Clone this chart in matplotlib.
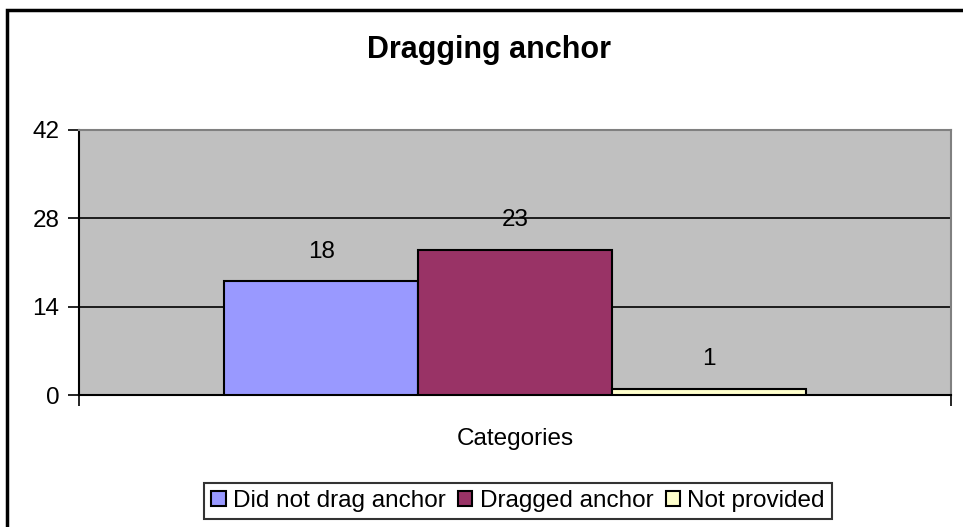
import matplotlib
matplotlib.use("Agg")
import matplotlib.pyplot as plt
from matplotlib.patches import Rectangle

# data
series = ["Did not drag anchor", "Dragged anchor", "Not provided"]
values = [18, 23, 1]
colors = ["#9999FF", "#993366", "#FFFFCC"]
yticks = [0, 14, 28, 42]
category = "Categories"

plt.rcParams['font.family'] = ['Liberation Sans', 'DejaVu Sans']

fig = plt.figure(figsize=(9.63, 5.27), dpi=100)
ax = fig.add_axes([79/963, 1-395/527, 872/963, 265/527])
ax.set_facecolor("#C0C0C0")

# bars side by side in one category
for i, (name, v, c) in enumerate(zip(series, values, colors)):
    ax.bar(i, v, width=1.0, color=c, edgecolor="black", linewidth=1.5, label=name, zorder=3)
    ax.text(i, v + 3.0, str(v), ha="center", va="bottom", fontsize=17.5, zorder=4)

ax.set_xlim(-1.25, 3.25)
ax.set_ylim(0, 42)
ax.set_yticks(yticks)
ax.set_yticklabels([str(t) for t in yticks], fontsize=17.5)
ax.set_xticks([-1.25, 3.25])
ax.set_xticklabels(["", ""])
ax.tick_params(axis="y", direction="out", length=8, width=1.2, pad=6)
ax.tick_params(axis="x", direction="out", length=8, width=1.2)
ax.yaxis.grid(True, color="black", linewidth=1.2, zorder=1)
ax.set_axisbelow(True)
ax.set_xlabel(category, fontsize=17.5, labelpad=12)

for s in ["top", "right"]:
    ax.spines[s].set_color("#808080")
    ax.spines[s].set_linewidth(1.5)
for s in ["left", "bottom"]:
    ax.spines[s].set_color("black")
    ax.spines[s].set_linewidth(1.5)

fig.text(489/963, 1-50/527, "Dragging anchor", ha="center", va="center",
         fontsize=22, fontweight="bold")

leg = fig.legend(loc="center", bbox_to_anchor=(518/963, 1-501/527), ncol=3,
                 fontsize=17.5, frameon=True, fancybox=False, edgecolor="black",
                 handlelength=0.6, handleheight=0.6, handletextpad=0.3,
                 columnspacing=0.5, borderpad=0.3, borderaxespad=0)
leg.get_frame().set_linewidth(1.5)

# chart area border (cropped on right and bottom)
fig.patches.append(Rectangle((7/963, -0.1), 1.2, 1.1 - 10/527, transform=fig.transFigure,
                             fill=False, edgecolor="black", linewidth=2.5))

fig.savefig("out.png", dpi=100)
